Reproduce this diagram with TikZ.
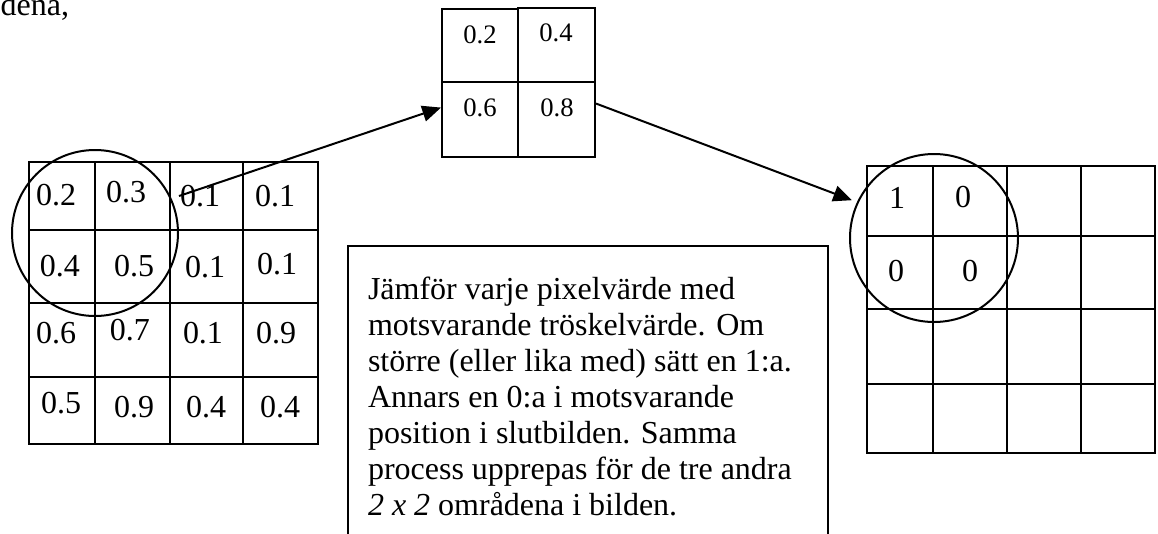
\documentclass[tikz,border=0pt]{standalone}
\usepackage{fontspec}
\setmainfont{Liberation Serif}
\usetikzlibrary{arrows.meta}

\begin{document}
\begin{tikzpicture}[x=0.375pt, y=-0.375pt, line width=0.75pt,
  cell/.style args={#1/#2}{draw, rectangle, inner sep=0pt, minimum width={(#1)*0.375pt}, minimum height={(#2)*0.375pt}},
  num/.style={inner sep=0pt, font=\fontsize{12}{14}\selectfont},
  small/.style={inner sep=0pt, font=\fontsize{10}{12}\selectfont},
  ring/.style={draw, circle, inner sep=0pt, minimum size={(#1)*0.375pt}},
  arr/.style={-{Triangle[length=7pt, width=6pt]}}]
  \useasboundingbox (0,0) rectangle (1158,533);
  \clip (0,0) rectangle (1158,533);

  \node (prev) [num, anchor=base east] at (70,15) {områdena,};

  % input image
  \foreach \r/\ya/\yb in {1/162/230, 2/230/303, 3/303/377, 4/377/444}
    \foreach \c/\xa/\xb in {1/29/95, 2/95/170, 3/170/243, 4/243/318}
      \node (L\r\c) [cell={\xb-\xa}/{\yb-\ya}] at ({(\xa+\xb)/2},{(\ya+\yb)/2}) {};
  \foreach \n/\x/\y/\v in {11/56/195/0.2, 12/126/192/0.3, 13/200/196/0.1, 14/275/196/0.1,
                           21/60/266/0.4, 22/134/266/0.5, 23/205/267/0.1, 24/277/264/0.1,
                           31/56/333/0.6, 32/130/330/0.7, 33/203/333/0.1, 34/276/333/0.9,
                           41/61/403/0.5, 42/134/407/0.9, 43/206/407/0.4, 44/280/407/0.4}
    \node (a\n) [num] at (\x,\y) {\v};
  \node (lring) [ring=166] at (95,233) {};

  % threshold matrix
  \foreach \n/\xa/\ya/\xb/\yb in {11/442/9/518/82, 12/518/8/595/82, 21/442/82/518/157, 22/518/82/595/157}
    \node (S\n) [cell={\xb-\xa}/{\yb-\ya}] at ({(\xa+\xb)/2},{(\ya+\yb)/2}) {};
  \foreach \n/\x/\y/\v in {11/480/35/0.2, 12/556/33/0.4, 21/480/108/0.6, 22/557/108/0.8}
    \node (b\n) [small] at (\x,\y) {\v};

  % output image
  \foreach \r/\ya/\yb in {1/166/236, 2/236/309, 3/309/384, 4/384/453}
    \foreach \c/\xa/\xb in {1/867/933, 2/933/1007, 3/1007/1081, 4/1081/1155}
      \node (R\r\c) [cell={\xb-\xa}/{\yb-\ya}] at ({(\xa+\xb)/2},{(\ya+\yb)/2}) {};
  \foreach \n/\x/\y/\v in {11/897/198/1, 12/963/197/0, 21/896/271/0, 22/970/271/0}
    \node (c\n) [num] at (\x,\y) {\v};
  \node (rring) [ring=168] at (934,238) {};

  \node (notebox) [draw, rectangle, inner sep=0pt, minimum width={480*0.375pt}, minimum height={340*0.375pt}, anchor=north west] at (347,245) {};
  \node (note) [anchor=north west, inner sep=0pt, align=left, font=\fontsize{12}{13.5}\selectfont] at (367,276)
    {Jämför varje pixelvärde med\\motsvarande tröskelvärde. Om\\större (eller lika med) sätt en 1:a.\\Annars en 0:a i motsvarande\\position i slutbilden. Samma\\process upprepas för de tre andra\\\textit{2 x 2} områdena i bilden.};

  \draw [arr] (a13.west) -- (S21.163);
  \draw [arr, shorten >=2pt] (S22.22) -- (rring.155);
\end{tikzpicture}
\end{document}
